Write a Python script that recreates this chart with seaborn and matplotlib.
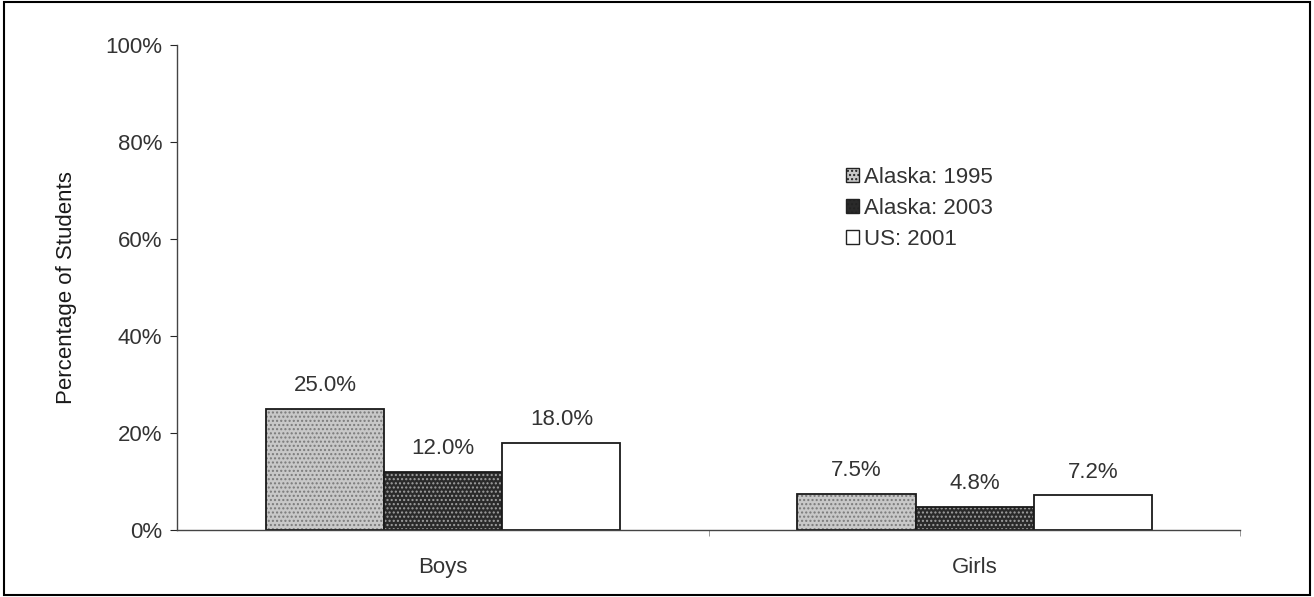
import matplotlib
matplotlib.use('Agg')
import matplotlib.pyplot as plt
import pandas as pd
import seaborn as sns
from matplotlib.ticker import PercentFormatter
from matplotlib.patches import Rectangle

# Chart values
groups = ['Boys', 'Girls']
series = ['Alaska: 1995', 'Alaska: 2003', 'US: 2001']
alaska_1995 = [25.0, 7.5]
alaska_2003 = [12.0, 4.8]
us_2001 = [18.0, 7.2]

df = pd.DataFrame({
    'Group': groups * 3,
    'Series': [series[0]] * 2 + [series[1]] * 2 + [series[2]] * 2,
    'Value': alaska_1995 + alaska_2003 + us_2001,
})

sns.set_style('white')
plt.rcParams['font.family'] = ['Liberation Sans', 'DejaVu Sans']

fig = plt.figure(figsize=(13.14, 5.97), dpi=100)
ax = fig.add_axes([0.135, 0.112, 0.809, 0.813])

fills = ['#c8c8c8', '#2a2a2a', '#ffffff']
hatch_cols = ['#7a7a7a', '#a0a0a0', '#ffffff']
hatches = ['....', '....', '']

sns.barplot(data=df, x='Group', y='Value', hue='Series', hue_order=series,
            palette=fills, width=0.667, edgecolor='#1a1a1a', linewidth=1.3,
            errorbar=None, ax=ax, legend=False)

for i, cont in enumerate(ax.containers):
    for bar in cont:
        bar.set_hatch(hatches[i])
        bar._hatch_color = matplotlib.colors.to_rgba(hatch_cols[i])
    ax.bar_label(cont, labels=[f'{v:.1f}%' for v in cont.datavalues],
                 padding=9, fontsize=16, color='#333333')

ax.set_ylim(0, 100)
ax.set_xlim(-0.5, 1.5)
ax.set_yticks([0, 20, 40, 60, 80, 100])
ax.set_xticks([0.5, 1.5], minor=True)
ax.yaxis.set_major_formatter(PercentFormatter(decimals=0))
ax.set_xlabel('')
ax.set_ylabel('Percentage of Students', fontsize=16, color='#1a1a1a', labelpad=20)
ax.tick_params(axis='y', left=True, length=5, labelsize=16, labelcolor='#333333', pad=6)
ax.tick_params(axis='x', which='major', bottom=False, labelsize=16, labelcolor='#333333', pad=16)
ax.tick_params(axis='x', which='minor', bottom=True, length=4, color='#888888')
for side in ['top', 'right']:
    ax.spines[side].set_visible(False)
for side in ['left', 'bottom']:
    ax.spines[side].set_color('#444444')
    ax.spines[side].set_linewidth(1)

# legend
handles = []
for i in range(3):
    h = Rectangle((0, 0), 1, 1, facecolor=fills[i], edgecolor='#222222',
                  hatch=hatches[i], linewidth=1)
    handles.append(h)
ax.legend(handles, series, loc='upper left', bbox_to_anchor=(0.61, 0.79),
          frameon=False, fontsize=16, handlelength=0.6, handleheight=0.6,
          handletextpad=0.2, labelspacing=0.45, labelcolor='#333333')

# border around the whole figure
fig.patches.append(Rectangle((0.003, 0.004), 0.994, 0.992, transform=fig.transFigure,
                             fill=False, edgecolor='black', linewidth=1.5))

fig.savefig('out.png', dpi=100)
